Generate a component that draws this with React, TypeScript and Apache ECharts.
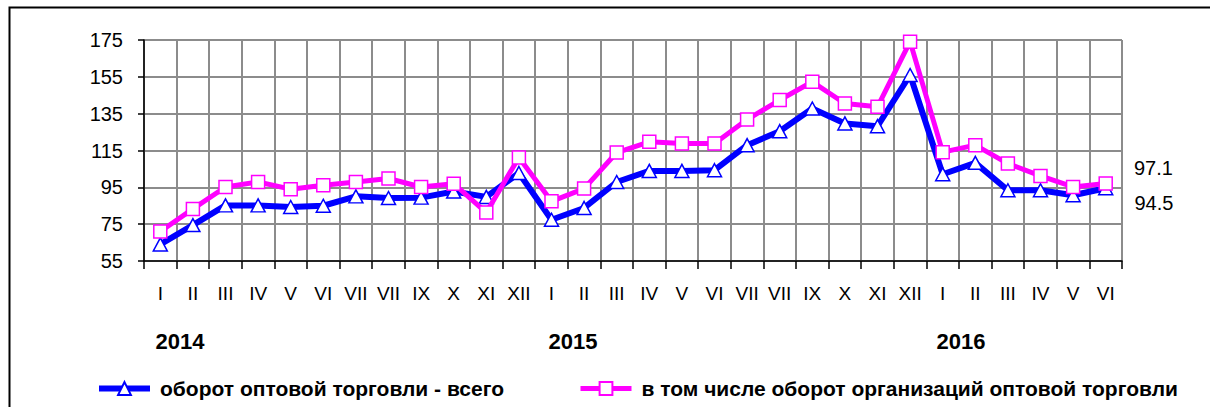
import React, { useEffect, useRef } from "react";
import * as echarts from "echarts";

const categories = [
  "I", "II", "III", "IV", "V", "VI", "VII", "VII", "IX", "X", "XI", "XII",
  "I", "II", "III", "IV", "V", "VI", "VII", "VII", "IX", "X", "XI", "XII",
  "I", "II", "III", "IV", "V", "VI",
];

const totalTurnover = [
  64, 74.5, 85.2, 85.2, 84.3, 85, 90.1, 89.2, 89.4, 92.7, 89.8, 102.8,
  77.4, 83.8, 97.9, 103.9, 103.9, 104.3, 117.9, 125.5, 137.8, 129.7, 128.2, 156,
  102.1, 108.3, 93.4, 93.4, 90.7, 94.5,
];

const orgTurnover = [
  71, 83.3, 95.2, 97.9, 94, 96.1, 97.9, 99.8, 95.2, 97, 81.3, 111.2,
  87.4, 94.3, 113.9, 119.7, 118.8, 118.8, 131.8, 142.4, 152.3, 140.5, 138.7, 174.1,
  114.1, 117.9, 107.9, 101.2, 95.2, 97.1,
];

const years = ["2014", "2015", "2016"];
const yearLabelX = [180, 573, 961];

const seriesNames = [
  "оборот оптовой торговли - всего",
  "в том числе оборот организаций оптовой торговли",
];

const FONT = "Arial, 'Liberation Sans', sans-serif";

export default function App() {
  const ref = useRef<HTMLDivElement>(null);

  useEffect(() => {
    document.body.style.margin = "0";
    if (!ref.current) return;
    const chart = echarts.init(ref.current, undefined, { renderer: "svg" });

    const withLastLabel = (arr: number[], offsetY: number) =>
      arr.map((v, i) =>
        i === arr.length - 1
          ? {
              value: v,
              label: {
                show: true,
                position: "right",
                distance: 21,
                offset: [0, offsetY],
                formatter: "{c}",
                color: "#000",
                fontSize: 20,
                fontFamily: FONT,
              },
            }
          : v
      );

    const gridColor = "#8c8c8c";

    const legendText = {
      color: "#000",
      fontSize: 21,
      fontWeight: "bold",
      fontFamily: FONT,
      padding: [0, 0, 0, 5],
    };

    chart.setOption({
      animation: false,
      backgroundColor: "#fff",
      grid: { left: 144, top: 40, right: 88, bottom: 146, containLabel: false },
      xAxis: {
        type: "category",
        data: categories,
        boundaryGap: true,
        axisLine: { show: true, lineStyle: { color: "#000", width: 1.5 } },
        axisTick: { show: true, length: 8, lineStyle: { color: "#000", width: 1.5 } },
        axisLabel: {
          interval: 0,
          margin: 23,
          color: "#000",
          fontSize: 19,
          fontFamily: FONT,
        },
        splitLine: { show: true, lineStyle: { color: gridColor, width: 2 } },
      },
      yAxis: {
        type: "value",
        min: 55,
        max: 175,
        interval: 20,
        axisLine: { show: true, lineStyle: { color: "#000", width: 1.5 } },
        axisTick: { show: true, length: 6, lineStyle: { color: "#000", width: 1.5 } },
        axisLabel: {
          margin: 21,
          color: "#000",
          fontSize: 20,
          fontFamily: FONT,
        },
        splitLine: { show: true, lineStyle: { color: gridColor, width: 2 } },
      },
      legend: [
        {
          data: [seriesNames[0]],
          left: 91,
          top: 373,
          itemWidth: 51,
          itemHeight: 16,
          lineStyle: { width: 6 },
          textStyle: legendText,
        },
        {
          data: [seriesNames[1]],
          left: 573,
          top: 373,
          itemWidth: 51,
          itemHeight: 16,
          lineStyle: { width: 5 },
          textStyle: legendText,
        },
      ],
      series: [
        {
          name: seriesNames[0],
          type: "line",
          data: withLastLabel(totalTurnover, 15),
          symbol: "triangle",
          symbolSize: [14, 13],
          showAllSymbol: true,
          lineStyle: { color: "#0000ff", width: 6 },
          itemStyle: { color: "#ffffff", borderColor: "#0000ff", borderWidth: 1.5 },
          z: 3,
        },
        {
          name: seriesNames[1],
          type: "line",
          data: withLastLabel(orgTurnover, -15),
          symbol: "rect",
          symbolSize: 13,
          showAllSymbol: true,
          lineStyle: { color: "#ff00ff", width: 5 },
          itemStyle: { color: "#ffffff", borderColor: "#ff00ff", borderWidth: 1.5 },
          z: 4,
        },
      ],
      graphic: [
        {
          type: "polyline",
          shape: { points: [[9.5, 407], [9.5, 7.5], [1210, 7.5]] },
          style: { stroke: "#000", lineWidth: 2, fill: "none" },
          silent: true,
        },
        ...years.map((y, i) => ({
          type: "text",
          x: yearLabelX[i],
          y: 341,
          style: {
            text: y,
            fill: "#000",
            font: `bold 22px ${FONT}`,
            textAlign: "center",
            textVerticalAlign: "middle",
          },
          silent: true,
        })),
      ],
    });

    return () => chart.dispose();
  }, []);

  return <div ref={ref} style={{ width: 1210, height: 407 }} />;
}
